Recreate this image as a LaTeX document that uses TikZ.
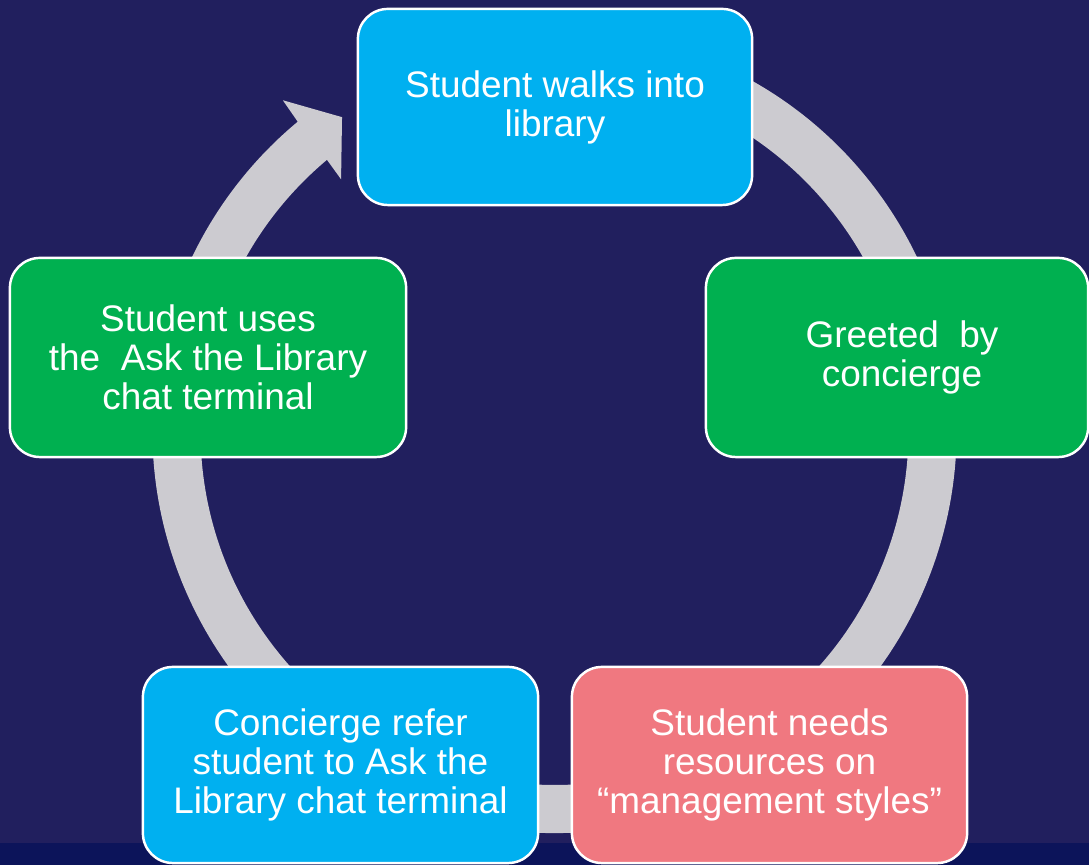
\documentclass[tikz,border=0pt]{standalone}
\usepackage{fontspec}
\setmainfont{Liberation Sans}
\usetikzlibrary{positioning}
\definecolor{navy}{RGB}{33,31,94}
\definecolor{deepnavy}{RGB}{12,20,90}
\definecolor{ringgray}{RGB}{204,203,208}
\definecolor{skyblue}{RGB}{0,176,240}
\definecolor{leafgreen}{RGB}{0,176,80}
\definecolor{salmon}{RGB}{240,120,128}
\tikzset{stage node/.style={rectangle,rounded corners=.3cm,draw=white,line width=.7pt,text=white,align=center,minimum width=3.95cm,minimum height=1.96cm,inner sep=0pt,font=\fontsize{10.5}{11.1}\selectfont},}

\begin{document}
\begin{tikzpicture}[x=.01cm,y=.01cm]
	\fill[navy] (0,0) rectangle (1089,865);
	\fill[deepnavy] (0,0) rectangle (1089,22);
	\useasboundingbox (0,0) rectangle (1089,865);

	% cycle ring with its arrow head
	\begin{scope}[shift={(554.5,434)}]
	\fill[ringgray] (70:402) arc[start angle=70,end angle=-230.3,radius=402]
	  -- (-230.6:428) -- (-235.9:379) -- (-229.7:330) -- (-230:354)
	  arc[start angle=-230,end angle=70,radius=354] -- cycle;
	\end{scope}

	\node[stage node,fill=skyblue,minimum width=3.94cm] (1) at (555,758) {Student walks into\\library};
	\node[stage node,fill=leafgreen,minimum width=3.82cm,minimum height=1.99cm] (2) at (897,507.5) {\hspace{.1cm}Greeted\ \ by\\\hspace{.1cm}concierge};
	\node[stage node,fill=salmon] (3) at (769.5,100) {Student needs\\resources on\\“management styles”};
	\node[stage node,fill=skyblue] (4) at (340.5,100) {Concierge refer\\student to Ask the\\Library chat terminal};
	\node[stage node,fill=leafgreen,minimum width=3.96cm,minimum height=1.99cm] (5) at (208,507.5) {Student uses\\the\ \ Ask the Library\\chat terminal};
\end{tikzpicture}
\end{document}
